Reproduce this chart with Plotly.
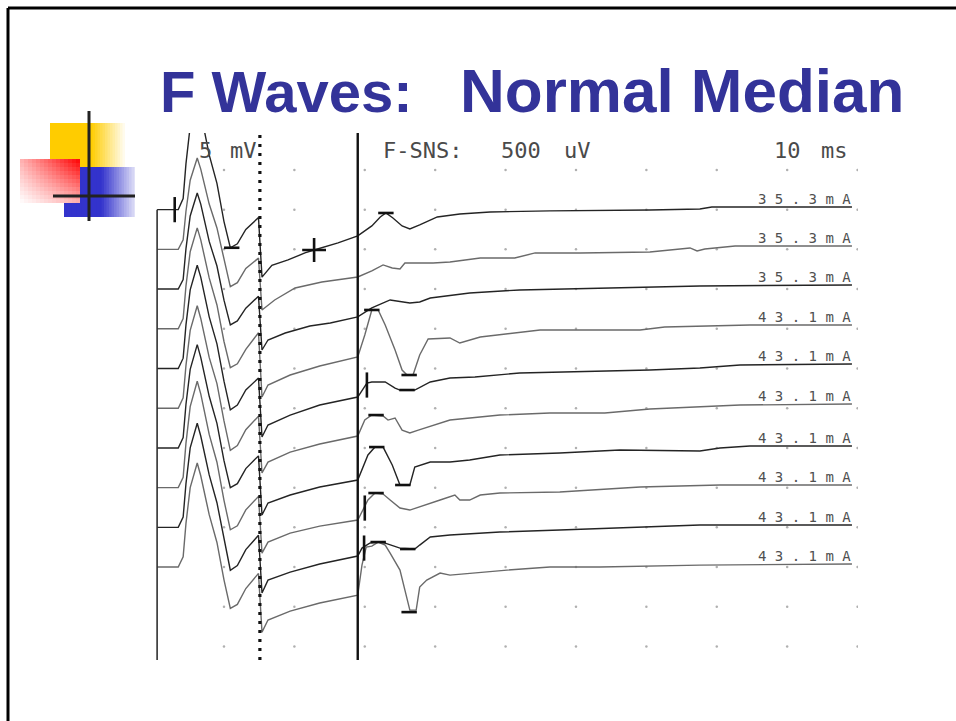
import plotly.graph_objects as go

# ------------------------------------------------------------------ data
STIM_MA = [35.3, 35.3, 35.3, 43.1, 43.1, 43.1, 43.1, 43.1, 43.1, 43.1]

M_GAIN_MV_PER_DIV = 5      # "5 mV"
F_GAIN_UV_PER_DIV = 500    # "F-SNS: 500 uV"
SWEEP_MS_PER_DIV = 10      # "10 ms"

STIM_ONSET_MS = 0.5
GAIN_SPLIT_MS = 15.1       # dotted line: M-wave window / F-wave window
F_WINDOW_MS = 29.0         # solid line

# M-wave part (mV), common sample times
M_TIME_MS = [0.5, 3.5, 4.2, 4.6, 5.2, 6.2, 6.7, 7.3, 7.9, 9.0, 10.0, 10.9, 11.9, 13.1, 14.9]
M1_MV = [0, 0, 1.4, 5.8, 10.5, 13.9, 12.2, 9.7, 6.9, 3.3, -1.5, -4.8, -4.3, -2.5, -1.0]
M2_MV = [0, 0, 1.2, 4.8, 8.7, 11.5, 10.1, 8.0, 5.7, 2.7, -1.4, -4.7, -4.2, -2.4, -1.1]
M3_MV = [0, 0, 1.2, 5.1, 9.2, 12.1, 10.7, 8.5, 6.0, 2.9, -1.4, -4.5, -4.0, -2.4, -0.9]
M4_MV = [0, 0, 1.3, 5.4, 9.7, 12.7, 11.2, 8.9, 6.4, 3.0, -1.6, -4.9, -4.4, -2.6, -0.5]
M5_MV = [0, 0, 1.3, 5.5, 9.9, 13.0, 11.5, 9.1, 6.5, 3.1, -1.6, -5.2, -4.6, -2.7, -1.2]
M6_MV = [0, 0, 1.3, 5.4, 9.8, 12.9, 11.3, 9.0, 6.4, 3.1, -1.6, -5.3, -4.7, -2.7, -1.0]
M7_MV = [0, 0, 1.3, 5.5, 9.9, 13.0, 11.4, 9.1, 6.5, 3.1, -1.6, -5.0, -4.5, -2.6, -1.0]
M8_MV = [0, 0, 1.3, 5.6, 10.2, 13.4, 11.8, 9.4, 6.7, 3.2, -1.6, -5.3, -4.8, -2.8, -1.1]
M9_MV = [0, 0, 1.3, 5.5, 10.0, 13.1, 11.5, 9.2, 6.6, 3.1, -1.6, -5.4, -4.8, -2.8, -1.0]
M10_MV = [0, 0, 1.3, 5.5, 10.0, 13.1, 11.5, 9.2, 6.6, 3.1, -1.6, -5.2, -4.7, -2.7, -0.8]

# F-wave part (uV)
F1_MS = [15.4, 16.8, 19.1, 21.5, 22.8, 26.2, 29.0, 31.0, 32.2, 33.0, 34.0, 35.3, 36.4, 37.8, 40.3, 43.5, 47.8, 56.3, 70.5, 77.6, 79.3, 99.2]
F1_UV = [-850, -700, -633, -545, -508, -419, -331, -205, -92, -42, -105, -205, -243, -193, -92, -54, -29, -16, -4, 9, 34, 34]
F2_MS = [15.4, 17.2, 20.1, 23.9, 29.0, 31.0, 32.6, 33.9, 35.0, 35.7, 39.7, 42.1, 46.4, 51.3, 54.2, 60.6, 70.5, 76.2, 77.2, 78.3, 82.6, 99.2]
F2_UV = [-763, -637, -486, -411, -348, -272, -196, -234, -247, -171, -171, -159, -108, -108, -45, -45, -33, 18, -20, 5, 43, 43]
F3_MS = [15.4, 16.25, 18.7, 22.2, 25.1, 29.0, 31.0, 33.6, 36.4, 37.8, 39.3, 44.9, 52.0, 63.4, 70.5, 77.6, 99.2]
F3_UV = [-767, -641, -553, -465, -427, -351, -238, -137, -175, -162, -112, -49, -11, 14, 26, 39, 52]
F4_MS = [15.4, 16.25, 19.4, 23.6, 29.0, 30.0, 31.0, 31.9, 32.9, 34.3, 35.3, 36.0, 36.85, 37.8, 39.0, 42.1, 43.5, 46.4, 54.9, 69.1, 72.6, 84.7, 99.2]
F4_UV = [-859, -708, -582, -468, -355, -78, 237, 237, 48, -267, -519, -582, -582, -330, -128, -116, -179, -103, -15, -15, 23, 48, 48]
F5_MS = [15.4, 16.25, 19.4, 23.6, 29.0, 29.6, 30.3, 31.0, 32.9, 34.3, 35.0, 37.1, 39.3, 42.1, 45.65, 52.0, 70.5, 77.6, 83.3, 99.2]
F5_UV = [-863, -712, -586, -460, -359, -271, -183, -170, -170, -246, -271, -271, -170, -120, -107, -57, -19, 6, 44, 57]
F6_MS = [15.4, 16.25, 19.4, 23.6, 29.0, 30.0, 31.0, 32.6, 33.3, 34.3, 35.3, 36.4, 37.6, 39.0, 42.1, 49.2, 56.3, 64.1, 70.5, 83.3, 99.2]
F6_UV = [-816, -678, -552, -451, -350, -149, -86, -98, -149, -123, -275, -312, -275, -237, -149, -86, -60, -60, -10, 40, 53]
F7_MS = [15.4, 16.25, 19.4, 23.6, 29.0, 29.6, 30.45, 31.45, 32.6, 33.9, 35.0, 36.4, 37.1, 39.3, 42.1, 44.9, 49.2, 57.7, 66.25, 77.6, 80.45, 84.7, 99.2]
F7_UV = [-845, -694, -593, -492, -404, -278, -89, 11, 11, -215, -467, -467, -241, -178, -178, -152, -89, -64, -26, -39, -1, 24, 24]
F8_MS = [15.4, 16.25, 19.4, 23.6, 29.0, 29.6, 30.45, 31.45, 32.6, 33.6, 35.0, 36.4, 37.8, 40.7, 42.8, 43.5, 44.9, 46.4, 49.2, 57.7, 69.1, 80.45, 99.2]
F8_UV = [-824, -685, -572, -484, -408, -307, -156, -68, -81, -156, -257, -282, -244, -156, -93, -156, -156, -93, -68, -55, 8, 33, 33]
F9_MS = [15.4, 16.25, 19.4, 23.6, 29.0, 29.6, 30.7, 31.9, 32.9, 35.0, 37.1, 37.8, 39.3, 42.1, 49.2, 57.7, 66.25, 77.6, 99.2]
F9_UV = [-827, -664, -563, -462, -361, -261, -198, -185, -198, -261, -273, -223, -122, -97, -59, -34, -9, 29, 29]
F10_MS = [15.4, 16.25, 19.4, 23.6, 29.0, 29.6, 30.2, 31.0, 31.9, 32.9, 33.6, 35.0, 35.7, 36.4, 37.3, 37.8, 38.8, 40.7, 42.1, 46.8, 50.2, 56.3, 63.4, 77.6, 99.2]
F10_UV = [-819, -667, -554, -453, -353, 25, 252, 264, 315, 277, 176, -38, -290, -542, -542, -252, -164, -76, -101, -63, -38, 0, 0, 25, 38]

# latency cursors: trace number, window ('M' in mV / 'F' in uV), time, amplitude, kind
CURSOR_TRACE = [1, 1, 1, 1, 4, 4, 5, 5, 6, 7, 7, 8, 8, 9, 9, 9, 10]
CURSOR_WINDOW = ['M', 'M', 'F', 'F', 'F', 'F', 'F', 'F', 'F', 'F', 'F', 'F', 'F', 'F', 'F', 'F', 'F']
CURSOR_MS = [3.0, 11.1, 22.8, 33.0, 31.0, 36.3, 30.3, 36.0, 31.6, 31.7, 35.4, 30.0, 31.6, 29.9, 31.9, 36.1, 36.3]
CURSOR_AMP = [0, -4.8, -508, -42, 237, -582, -208, -271, -86, 11, -467, -257, -68, -261, -185, -273, -567]
CURSOR_KIND = ['v', 'h', '+', 'h', 'h', 'h', 'v', 'h', 'h', 'h', 'h', 'v', 'h', 'v', 'h', 'h', 'h']

M_TRACES = [M1_MV, M2_MV, M3_MV, M4_MV, M5_MV, M6_MV, M7_MV, M8_MV, M9_MV, M10_MV]
F_TIMES = [F1_MS, F2_MS, F3_MS, F4_MS, F5_MS, F6_MS, F7_MS, F8_MS, F9_MS, F10_MS]
F_TRACES = [F1_UV, F2_UV, F3_UV, F4_UV, F5_UV, F6_UV, F7_UV, F8_UV, F9_UV, F10_UV]

# ------------------------------------------------------------------ layout helpers
W, H = 956, 721
SCAN_L, SCAN_R, SCAN_T, SCAN_B = 140, 858, 133, 660


def fx(x):
    return x / W


def fy(y):
    return 1 - y / H


def mix(c1, c2, t):
    t = max(0.0, min(1.0, t))
    a = [int(c1[i:i + 2], 16) for i in (1, 3, 5)]
    b = [int(c2[i:i + 2], 16) for i in (1, 3, 5)]
    return "rgb(%d,%d,%d)" % tuple(round(a[i] + (b[i] - a[i]) * t) for i in range(3))


def trace_y(k, amp, window):
    gain = M_GAIN_MV_PER_DIV if window == 'M' else F_GAIN_UV_PER_DIV
    return -k + amp / gain


fig = go.Figure()

# grid dots of the recorder screen
gx, gy = [], []
for i in range(1, 11):
    for j in range(0, 13):
        gx.append(i * SWEEP_MS_PER_DIV)
        gy.append(-j)
fig.add_trace(go.Scatter(x=gx, y=gy, mode="markers",
                         marker=dict(size=2.5, color="#b0b0b0"),
                         hoverinfo="skip", showlegend=False))

COLORS = ["#6a6a6a", "#242424"]
for k in range(1, 11):
    xs = list(M_TIME_MS) + list(F_TIMES[k - 1])
    ys = [trace_y(k, v, 'M') for v in M_TRACES[k - 1]] + [trace_y(k, v, 'F') for v in F_TRACES[k - 1]]
    fig.add_trace(go.Scatter(x=xs, y=ys, mode="lines",
                             line=dict(color=COLORS[k % 2], width=1.4),
                             hoverinfo="skip", showlegend=False))

# cursors
SYMBOL = {'v': ('line-ns', 18), 'h': ('line-ew', 11), '+': ('cross-thin', 17)}
for kind in ('v', 'h', '+'):
    idx = [i for i, c in enumerate(CURSOR_KIND) if c == kind]
    if not idx:
        continue
    fig.add_trace(go.Scatter(
        x=[CURSOR_MS[i] for i in idx],
        y=[trace_y(CURSOR_TRACE[i], CURSOR_AMP[i], CURSOR_WINDOW[i]) for i in idx],
        mode="markers",
        marker=dict(symbol=SYMBOL[kind][0], size=SYMBOL[kind][1],
                    line=dict(color="#111111", width=2.6)),
        hoverinfo="skip", showlegend=False))

shapes = []
# stimulus / window lines
shapes.append(dict(type="line", xref="x", yref="y", x0=STIM_ONSET_MS, x1=STIM_ONSET_MS,
                   y0=-1, y1=-12.4, line=dict(color="#303030", width=1.6)))
shapes.append(dict(type="line", xref="x", yref="paper", x0=GAIN_SPLIT_MS, x1=GAIN_SPLIT_MS,
                   y0=fy(SCAN_B), y1=fy(SCAN_T), line=dict(color="#111111", width=3.2, dash="3px,6px")))
shapes.append(dict(type="line", xref="x", yref="paper", x0=F_WINDOW_MS, x1=F_WINDOW_MS,
                   y0=fy(SCAN_B), y1=fy(SCAN_T), line=dict(color="#111111", width=2.4)))

# slide frame
shapes.append(dict(type="line", xref="paper", yref="paper", x0=fx(8), x1=fx(8), y0=fy(8), y1=fy(H + 5),
                   line=dict(color="#000000", width=3)))
shapes.append(dict(type="line", xref="paper", yref="paper", x0=fx(8), x1=fx(W + 5), y0=fy(8), y1=fy(8),
                   line=dict(color="#000000", width=3)))

# decorative bullet icon (gradient squares)
YEL, BLU, RED, WHITE = "#ffcc00", "#3333cc", "#ff0000", "#ffffff"
x = 50.0
while x < 125:
    t = 0 if x < 90 else (x - 90) / 35
    shapes.append(dict(type="rect", xref="paper", yref="paper", x0=fx(x), x1=fx(min(x + 3, 125)),
                       y0=fy(167), y1=fy(123), fillcolor=mix(YEL, WHITE, t), line=dict(width=0), layer="above"))
    x += 2.5
x = 64.0
while x < 135:
    t = 0 if x < 100 else 0.88 * (x - 100) / 35
    shapes.append(dict(type="rect", xref="paper", yref="paper", x0=fx(x), x1=fx(min(x + 3, 135)),
                       y0=fy(217), y1=fy(167), fillcolor=mix(BLU, WHITE, t), line=dict(width=0), layer="above"))
    x += 2.5
for i in range(15):
    for j in range(11):
        cx, cy = 20 + 4 * i, 159 + 4 * j
        u = (cx + 2 - 20) / 60
        v = (203 - (cy + 2)) / 44
        t = 0.3 * u + 0.3 * v + 0.4 * u * v
        shapes.append(dict(type="rect", xref="paper", yref="paper", x0=fx(cx), x1=fx(min(cx + 4.6, 80)),
                           y0=fy(min(cy + 4.6, 203)), y1=fy(cy), fillcolor=mix(WHITE, RED, t),
                           line=dict(width=0), layer="above"))
shapes.append(dict(type="line", xref="paper", yref="paper", x0=fx(89), x1=fx(89), y0=fy(221), y1=fy(111),
                   line=dict(color="#222222", width=3)))
shapes.append(dict(type="line", xref="paper", yref="paper", x0=fx(53), x1=fx(135), y0=fy(196), y1=fy(196),
                   line=dict(color="#222222", width=3)))

annotations = []
NB = "\u00a0"
TITLE_FONT = "Liberation Sans, Arial"
annotations.append(dict(text="<b>F Waves:</b>", xref="paper", yref="paper",
                        x=fx(158), y=fy(92), xanchor="left", yanchor="middle", showarrow=False,
                        font=dict(family=TITLE_FONT, size=58, color="#333399")))
annotations.append(dict(text="<b>Normal Median</b>", xref="paper", yref="paper",
                        x=fx(458), y=fy(90.5), xanchor="left", yanchor="middle", showarrow=False,
                        font=dict(family=TITLE_FONT, size=62, color="#333399")))

MONO = "DejaVu Sans Mono"
hdr = [("5", 198), ("mV", 229), ("F-SNS:", 382), (str(F_GAIN_UV_PER_DIV), 500), ("uV", 563),
       (str(SWEEP_MS_PER_DIV), 773), ("ms", 820)]
for txt, xp in hdr:
    annotations.append(dict(text=txt, xref="paper", yref="paper", x=fx(xp - 1), y=fy(150),
                            xanchor="left", yanchor="middle", showarrow=False,
                            font=dict(family=MONO, size=22, color="#4a4a4a")))

for k in range(1, 11):
    label = NB.join(list("%.1fmA" % STIM_MA[k - 1]))
    yend = trace_y(k, F_TRACES[k - 1][-1], 'F')
    annotations.append(dict(text=label, xref="paper", yref="y", x=fx(853), y=yend,
                            xanchor="right", yanchor="middle", yshift=8, showarrow=False,
                            font=dict(family=MONO, size=14, color="#505050")))

fig.update_layout(
    width=W, height=H, margin=dict(l=0, r=0, t=0, b=0),
    paper_bgcolor="white", plot_bgcolor="white",
    xaxis=dict(domain=[fx(SCAN_L), fx(SCAN_R)], range=[-1.93, 100.06], visible=False, fixedrange=True),
    yaxis=dict(domain=[fy(SCAN_B), fy(SCAN_T)], range=[-12.34, 0.93], visible=False, fixedrange=True),
    shapes=shapes, annotations=annotations, showlegend=False, hovermode=False,
)

fig.write_html("out.html", config={"displayModeBar": False})
